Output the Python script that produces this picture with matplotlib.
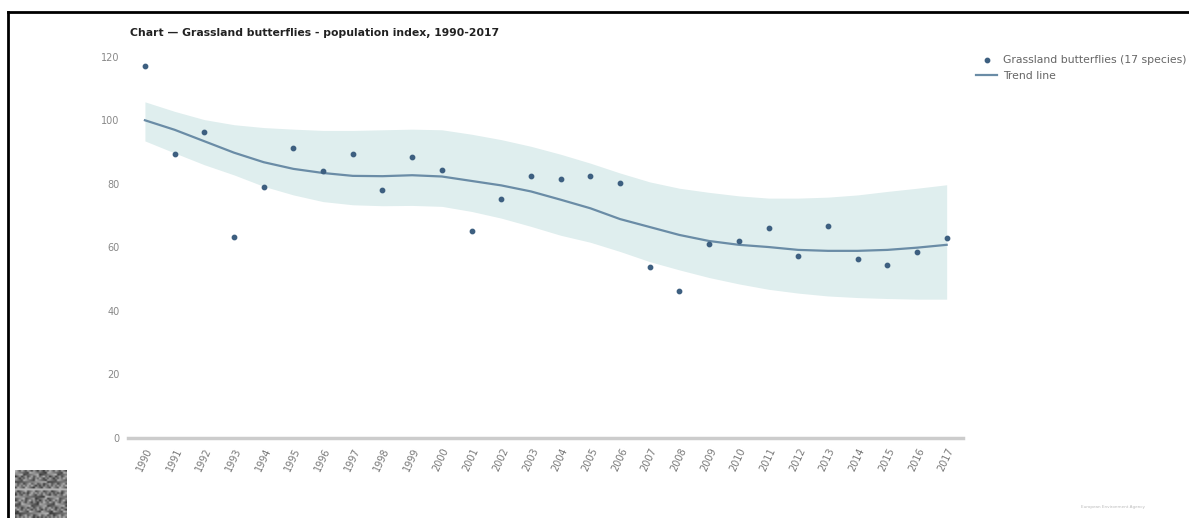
import numpy as np
import matplotlib
matplotlib.use("Agg")
import matplotlib.pyplot as plt

# data
years = list(range(1990, 2018))
index_vals = [117.1, 89.5, 96.4, 63.4, 78.9, 91.3, 84.0, 89.4, 78.1, 88.3,
              84.4, 65.1, 75.1, 82.5, 81.4, 82.3, 80.3, 53.9, 46.4, 60.9,
              62.1, 66.0, 57.3, 66.6, 56.2, 54.3, 58.6, 63.0]
trend = [100.0, 97.0, 93.4, 89.8, 86.8, 84.7, 83.4, 82.5, 82.4, 82.7,
         82.3, 80.9, 79.5, 77.6, 75.0, 72.3, 68.9, 66.4, 63.9, 62.0,
         60.8, 60.1, 59.2, 58.9, 58.9, 59.2, 59.9, 60.8]
upper = [105.8, 102.8, 100.2, 98.6, 97.7, 97.2, 96.8, 96.8, 97.0, 97.2,
         97.0, 95.6, 93.9, 91.8, 89.3, 86.5, 83.4, 80.6, 78.6, 77.3,
         76.2, 75.5, 75.5, 75.8, 76.5, 77.6, 78.6, 79.7]
lower = [93.5, 89.7, 86.0, 82.8, 79.2, 76.5, 74.4, 73.4, 73.1, 73.2,
         72.9, 71.3, 69.2, 66.6, 63.8, 61.6, 58.7, 55.5, 52.9, 50.5,
         48.5, 46.8, 45.6, 44.7, 44.2, 43.9, 43.7, 43.7]
yticks = [0, 20, 40, 60, 80, 100, 120]

W, H = 1189, 518
fig = plt.figure(figsize=(W/100, H/100), dpi=100)
fig.patch.set_facecolor("white")

ax = fig.add_axes([128/W, (H-438)/H, (963-128)/W, (438-44)/H])

ax.fill_between(years, lower, upper, color="#dfeeee", linewidth=0, zorder=1)
ax.plot(years, trend, color="#6a8ca6", linewidth=1.6, zorder=2, label="Trend line")
ax.scatter(years, index_vals, s=10, color="#3d5f80", zorder=3,
           label="Grassland butterflies (17 species)")

ax.set_xlim(1989.43, 2017.55)
ax.set_ylim(0, 124)
ax.set_yticks(yticks)
ax.set_xticks(years)
ax.set_xticklabels([str(y) for y in years], rotation=65, ha="right",
                   va="top", rotation_mode="anchor")

for s in ["top", "right", "left"]:
    ax.spines[s].set_visible(False)
ax.spines["bottom"].set_color("#cccccc")
ax.spines["bottom"].set_linewidth(2.5)
ax.tick_params(axis="y", length=0, pad=6, labelsize=7, labelcolor="#888888")
ax.tick_params(axis="x", length=0, pad=6, labelsize=7, labelcolor="#777777")

# title
fig.text(130/W, 1-33/H, "Chart \u2014 Grassland butterflies - population index, 1990-2017",
         fontsize=7.8, fontweight="bold", color="#222222", va="center", ha="left")

# legend
handles, labels = ax.get_legend_handles_labels()
leg = fig.legend(handles[::-1], labels[::-1], loc="upper left",
                 bbox_to_anchor=(966/W, 1-45/H), frameon=False, fontsize=7.8,
                 handlelength=2.0, handletextpad=0.5, labelspacing=0.55,
                 labelcolor="#666666")

# frame lines top and left
fig.add_artist(plt.Line2D([7.5/W, 1], [1-11.5/H, 1-11.5/H], color="black",
                          linewidth=2, transform=fig.transFigure))
fig.add_artist(plt.Line2D([7.5/W, 7.5/W], [0, 1-11.5/H], color="black",
                          linewidth=2, transform=fig.transFigure))

# qr-like image bottom left
qax = fig.add_axes([15/W, 0, 52/W, 48/H])
i, j = np.indices((26, 26))
pattern = ((i * 37 + j * 91 + i * j * 13 + (i // 3) * 7) % 17) / 16.0
qax.imshow(pattern, cmap="Greys", vmin=-0.9, vmax=1.4, interpolation="bilinear",
           aspect="auto")
qax.axis("off")

# agency credit bottom right
fig.text(1145/W, 1-507/H, "European Environment Agency", fontsize=3,
         color="#bbbbbb", ha="right", va="center")

fig.savefig("out.png", dpi=100, facecolor="white")
